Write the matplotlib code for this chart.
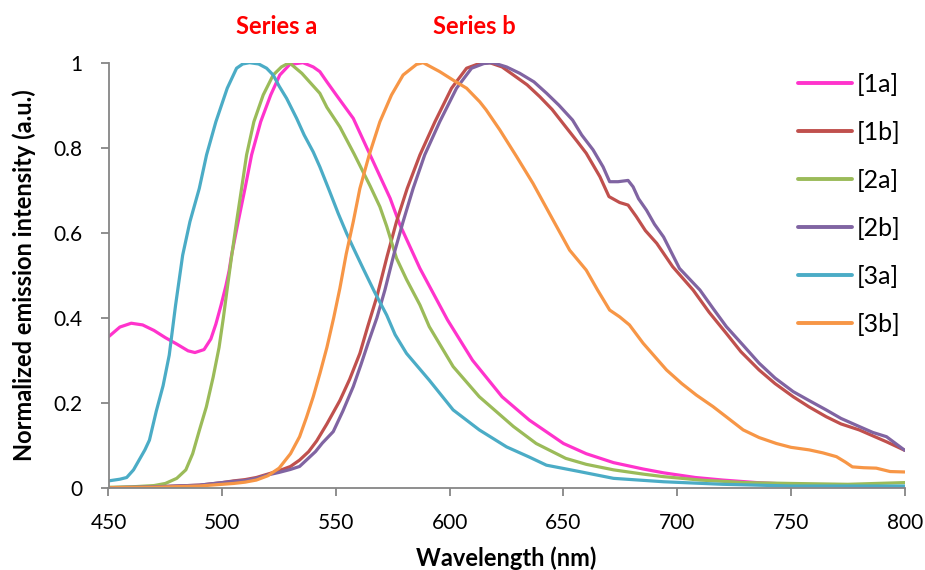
import matplotlib
matplotlib.use("Agg")
import matplotlib.pyplot as plt

plt.rcParams['font.family'] = ['Lato', 'DejaVu Sans']

# ---------------- data ----------------
x_1a = [450, 455, 460, 465, 470, 475, 480, 485, 488, 492, 495, 497.2, 499.5, 501.6, 503, 504.1, 507, 510, 512.9,
        516.9, 521.3, 525.3, 529.7, 535.5, 540, 542.9, 546, 550, 557.6, 565, 573.8, 578, 586.9, 599, 610, 623,
        635, 650, 660, 672, 685, 694, 708, 720, 735, 750, 770, 800]
y_1a = [0.355, 0.378, 0.387, 0.383, 0.370, 0.353, 0.338, 0.322, 0.318, 0.325, 0.350, 0.385, 0.430, 0.475, 0.510,
        0.547, 0.626, 0.704, 0.783, 0.861, 0.924, 0.971, 0.996, 1.000, 0.990, 0.979, 0.955, 0.925, 0.869, 0.783,
        0.681, 0.620, 0.516, 0.395, 0.300, 0.214, 0.159, 0.104, 0.080, 0.059, 0.044, 0.035, 0.024, 0.018, 0.012,
        0.008, 0.005, 0.001]

x_1b = [450, 470, 490, 500, 505, 510, 515, 520, 525, 530, 534, 538, 541.5, 546, 551.7, 556, 560.5, 564, 568,
        572.5, 576.6, 581.3, 586.9, 593.5, 600.8, 607.4, 613, 617.6, 623, 628, 634, 639.6, 645, 651, 656, 660, 666,
        670, 674.7, 678.4, 682, 686, 691, 698, 707, 714, 721.6, 728, 736, 743, 751, 758, 765.5, 772, 780, 786, 792,
        800]
y_1b = [0.000, 0.002, 0.006, 0.012, 0.016, 0.019, 0.024, 0.032, 0.040, 0.050, 0.065, 0.085, 0.110, 0.150, 0.205,
        0.255, 0.316, 0.380, 0.450, 0.545, 0.626, 0.704, 0.783, 0.861, 0.940, 0.987, 0.998, 1.000, 0.990, 0.971,
        0.948, 0.920, 0.890, 0.849, 0.815, 0.787, 0.732, 0.685, 0.671, 0.665, 0.638, 0.605, 0.575, 0.520, 0.465,
        0.413, 0.363, 0.320, 0.277, 0.245, 0.214, 0.190, 0.167, 0.150, 0.136, 0.122, 0.108, 0.088]

x_2a = [450, 460, 470, 475, 480, 484, 487, 490, 493, 496, 498.6, 500.5, 502.2, 504, 506.3, 508.5, 510.7, 513.9,
        518, 522.4, 526, 529.5, 535, 542.9, 546, 551.7, 558, 565, 569.3, 572.3, 576.6, 581, 586.9, 591, 601.5,
        613, 628, 638, 651, 660, 672, 685, 694, 710, 730, 750, 775, 800]
y_2a = [0.001, 0.002, 0.005, 0.010, 0.022, 0.042, 0.080, 0.136, 0.190, 0.260, 0.330, 0.400, 0.469, 0.540, 0.626,
        0.704, 0.783, 0.861, 0.924, 0.971, 0.990, 1.000, 0.975, 0.928, 0.895, 0.849, 0.785, 0.710, 0.661, 0.615,
        0.540, 0.490, 0.430, 0.379, 0.285, 0.214, 0.144, 0.104, 0.069, 0.055, 0.042, 0.032, 0.026, 0.018, 0.012,
        0.010, 0.008, 0.012]

x_2b = [450, 470, 490, 500, 505, 510, 515, 520, 525, 530, 534, 537, 541, 544, 548.8, 553, 557.6, 561, 564.1,
        568, 571.5, 575.5, 579.5, 583.9, 589, 595.6, 603, 609.6, 615, 619, 625, 630.8, 637, 642.6, 648, 654, 658,
        663, 667.4, 670.3, 674, 678.4, 680.6, 683, 686.5, 690, 694, 701, 710, 716, 721.6, 729, 736, 743, 751,
        758, 765.5, 772, 780, 786, 792, 800]
y_2b = [0.000, 0.002, 0.006, 0.012, 0.015, 0.017, 0.022, 0.030, 0.036, 0.043, 0.050, 0.065, 0.085, 0.105, 0.132,
        0.180, 0.238, 0.290, 0.340, 0.400, 0.465, 0.550, 0.626, 0.704, 0.783, 0.861, 0.940, 0.987, 0.998, 1.000,
        0.990, 0.975, 0.955, 0.928, 0.900, 0.865, 0.830, 0.795, 0.755, 0.720, 0.720, 0.723, 0.708, 0.680, 0.653,
        0.620, 0.590, 0.516, 0.465, 0.420, 0.379, 0.335, 0.293, 0.258, 0.226, 0.205, 0.183, 0.163, 0.144, 0.130,
        0.120, 0.088]

x_3a = [450, 455, 458, 461, 466, 468, 471, 474, 476.7, 479.5, 482.6, 485.8, 489.9, 493.1, 497.2, 502.2, 506.3,
        509, 512, 516, 519.5, 522.4, 525, 528.3, 532.7, 536, 540, 542.9, 547, 551, 554.7, 558, 562, 567, 572.3,
        576, 581, 591, 601.5, 613, 625, 635, 642.5, 657, 672, 694, 720, 750, 780, 800]
y_3a = [0.016, 0.020, 0.024, 0.042, 0.089, 0.112, 0.180, 0.240, 0.312, 0.430, 0.547, 0.626, 0.704, 0.783, 0.861,
        0.940, 0.987, 0.997, 1.000, 0.997, 0.987, 0.971, 0.945, 0.916, 0.869, 0.830, 0.790, 0.755, 0.700, 0.645,
        0.598, 0.560, 0.515, 0.460, 0.406, 0.360, 0.316, 0.253, 0.183, 0.136, 0.096, 0.072, 0.053, 0.038, 0.022,
        0.014, 0.008, 0.004, 0.004, 0.004]

x_3b = [450, 470, 490, 500, 505, 510, 515, 520, 525, 530, 534, 537, 540, 543, 546, 549, 551.7, 554.5, 557.6,
        560.5, 564.6, 569.3, 574.4, 579.5, 585.4, 588.3, 595.6, 601.5, 607.4, 613.2, 616, 622, 629.4, 636.6,
        645.4, 652.7, 660, 665, 670.3, 674.7, 679, 685, 695.3, 702, 708.4, 715.7, 722, 729, 736, 743.6, 750, 758,
        764, 770, 774, 777, 782, 787.5, 793.6, 800]
y_3b = [0.000, 0.001, 0.004, 0.008, 0.010, 0.013, 0.018, 0.028, 0.046, 0.080, 0.120, 0.165, 0.214, 0.270, 0.330,
        0.400, 0.469, 0.550, 0.626, 0.704, 0.783, 0.861, 0.924, 0.971, 0.996, 1.000, 0.979, 0.959, 0.940, 0.908,
        0.889, 0.842, 0.779, 0.716, 0.630, 0.559, 0.512, 0.465, 0.418, 0.402, 0.383, 0.340, 0.277, 0.245, 0.218,
        0.191, 0.165, 0.136, 0.118, 0.104, 0.095, 0.089, 0.082, 0.073, 0.060, 0.049, 0.047, 0.046, 0.038, 0.037]

labels = ['[1a]', '[1b]', '[2a]', '[2b]', '[3a]', '[3b]']
colors = ['#FF33CC', '#C0504D', '#9BBB59', '#8064A2', '#4BACC6', '#F79646']
series_x = [x_1a, x_1b, x_2a, x_2b, x_3a, x_3b]
series_y = [y_1a, y_1b, y_2a, y_2b, y_3a, y_3b]

x_ticks = [450, 500, 550, 600, 650, 700, 750, 800]
y_ticks = [0, 0.2, 0.4, 0.6, 0.8, 1]
y_tick_labels = ['0', '0.2', '0.4', '0.6', '0.8', '1']

# ---------------- figure ----------------
W, H = 925, 570
fig = plt.figure(figsize=(W / 100, H / 100), dpi=100)
ax = fig.add_axes([108.5 / W, 1 - 487.7 / H, (904.7 - 108.5) / W, (487.7 - 62.7) / H])

for xs, ys, c, lab in zip(series_x, series_y, colors, labels):
    ax.plot(xs, ys, color=c, lw=2.3, label=lab, solid_joinstyle='round', solid_capstyle='round')

ax.set_xlim(450, 800)
ax.set_ylim(0, 1)
ax.set_xticks(x_ticks)
ax.set_yticks(y_ticks)
ax.set_yticklabels(y_tick_labels)

for s in ['top', 'right']:
    ax.spines[s].set_visible(False)
for s in ['left', 'bottom']:
    ax.spines[s].set_color('#868686')
    ax.spines[s].set_linewidth(1.3)
ax.tick_params(axis='both', direction='out', length=6, width=1.3, color='#868686',
               labelsize=15, labelcolor='black')
ax.tick_params(axis='x', pad=12)
ax.tick_params(axis='y', pad=13)

ax.set_xlabel('Wavelength (nm)', fontsize=17, fontweight='bold', labelpad=10)
ax.set_ylabel('Normalized emission intensity (a.u.)', fontsize=17, fontweight='bold', labelpad=12)

fig.text(277 / W, 1 - 27 / H, 'Series a', color='#FF0000', fontsize=17, fontweight='bold',
         ha='center', va='center')
fig.text(474 / W, 1 - 27 / H, 'Series b', color='#FF0000', fontsize=17, fontweight='bold',
         ha='center', va='center')

leg = ax.legend(loc='upper left', bbox_to_anchor=(798 / W, 1 - 73 / H), bbox_transform=fig.transFigure,
                frameon=False, fontsize=18, handlelength=2.16, handletextpad=0.2, labelspacing=1.0,
                borderpad=0, borderaxespad=0)
for line in leg.get_lines():
    line.set_linewidth(2.8)

fig.savefig('out.png', dpi=100)
